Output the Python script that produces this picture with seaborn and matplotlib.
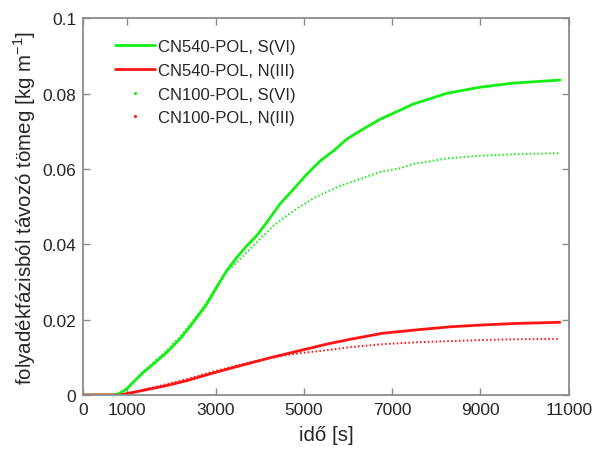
import matplotlib
matplotlib.use("Agg")
import matplotlib.pyplot as plt
from matplotlib.lines import Line2D
import seaborn as sns
import pandas as pd

# ---- data ----
t_cn540_s = [0, 650, 800, 983, 1133, 1360, 1586, 1890, 2191, 2493, 2796, 3023, 3249, 3476,
             3703, 3929, 4156, 4457, 4761, 5063, 5364, 5667, 5969, 6270, 6723, 7177, 7471,
             8242, 8990, 9738, 10803]
y_cn540_s = [0, 0, 0.0003, 0.0016, 0.0034, 0.006, 0.0082, 0.0113, 0.0149, 0.0193, 0.0241,
             0.0286, 0.033, 0.0365, 0.0396, 0.0423, 0.0458, 0.0507, 0.0546, 0.0586, 0.0621,
             0.0648, 0.0679, 0.0701, 0.0732, 0.0756, 0.0772, 0.0801, 0.0817, 0.0828, 0.0836]

t_cn540_n = [0, 830, 1133, 1511, 1889, 2342, 2871, 3400, 3855, 4308, 4911, 5516, 6050,
             6790, 7560, 8310, 9060, 9830, 10800]
y_cn540_n = [0, 0, 0.0007, 0.0016, 0.0025, 0.0038, 0.0056, 0.0073, 0.0087, 0.0101, 0.0118,
             0.0135, 0.0148, 0.0164, 0.0173, 0.0181, 0.0186, 0.0190, 0.0193]

t_cn100_s = [0, 650, 800, 983, 1133, 1360, 1586, 1890, 2191, 2493, 2796, 3023, 3249, 3401,
             3703, 4004, 4306, 4608, 4911, 5214, 5516, 5818, 6270, 6723, 7177, 7471, 8242,
             8990, 9738, 10803]
y_cn100_s = [0, 0, 0.0003, 0.0017, 0.0036, 0.0063, 0.0086, 0.0118, 0.0155, 0.0199, 0.0246,
             0.0289, 0.0328, 0.0343, 0.0378, 0.0414, 0.0449, 0.0476, 0.0500, 0.0522, 0.0539,
             0.0555, 0.0573, 0.0592, 0.0602, 0.0613, 0.0628, 0.0635, 0.0639, 0.0642]

t_cn100_n = [0, 830, 1133, 1511, 1889, 2342, 2871, 3400, 3855, 4457, 4911, 5516, 6050,
             6790, 7560, 8310, 9060, 9830, 10800]
y_cn100_n = [0, 0, 0.0008, 0.0018, 0.0029, 0.0042, 0.0060, 0.0076, 0.0089, 0.0103, 0.0111,
             0.0119, 0.0127, 0.0135, 0.0140, 0.0143, 0.0146, 0.0148, 0.0149]

series_names = ["CN540-POL, S(VI)", "CN540-POL, N(III)", "CN100-POL, S(VI)", "CN100-POL, N(III)"]
x_ticks = [0, 1000, 3000, 5000, 7000, 9000, 11000]
y_ticks = [0, 0.02, 0.04, 0.06, 0.08, 0.1]
y_tick_labels = ["0", "0.02", "0.04", "0.06", "0.08", "0.1"]
x_label = "idő [s]"
y_label = "folyadékfázisból távozó tömeg [kg m$^{\\mathregular{-1}}$]"

# ---- style ----
sns.set_style("white")
plt.rcParams["font.family"] = ["Liberation Sans", "DejaVu Sans"]

GREEN = "#14f014"
RED = "#ff1414"
AXC = "#8c8c8c"
TXT = "#262626"

fig = plt.figure(figsize=(5.95, 4.52), dpi=100)
ax = fig.add_axes([0.14, 0.1239, 0.8158, 0.8334])

data = [
    (t_cn540_s, y_cn540_s, GREEN, "-"),
    (t_cn540_n, y_cn540_n, RED, "-"),
    (t_cn100_s, y_cn100_s, GREEN, ":"),
    (t_cn100_n, y_cn100_n, RED, ":"),
]
for name, (t, y, col, ls) in zip(series_names, data):
    df = pd.DataFrame({"t": t, "y": y})
    if ls == "-":
        sns.lineplot(data=df, x="t", y="y", ax=ax, color=col, lw=2.0,
                     sort=False, estimator=None, legend=False)
    else:
        sns.lineplot(data=df, x="t", y="y", ax=ax, color=col, lw=1.4,
                     linestyle=(0, (0.8, 1.2)), sort=False, estimator=None, legend=False)

ax.set_xlim(0, 11000)
ax.set_ylim(0, 0.1)
ax.set_xticks(x_ticks)
ax.set_xticklabels([str(v) for v in x_ticks])
ax.set_yticks(y_ticks)
ax.set_yticklabels(y_tick_labels)
ax.set_xlabel(x_label, fontsize=14.8, color=TXT, labelpad=6)
ax.set_ylabel(y_label, fontsize=14.8, color=TXT, labelpad=3)

for sp in ax.spines.values():
    sp.set_visible(True)
    sp.set_color(AXC)
    sp.set_linewidth(1.3)
ax.tick_params(axis="both", which="both", direction="in", length=5, width=1,
               color=AXC, labelsize=12.5, labelcolor=TXT,
               top=True, right=True, bottom=True, left=True, pad=5)

handles = [
    Line2D([0], [0], color=GREEN, lw=2.0),
    Line2D([0], [0], color=RED, lw=2.0),
    Line2D([0], [0], color=GREEN, ls="none", marker=".", markersize=2.5),
    Line2D([0], [0], color=RED, ls="none", marker=".", markersize=2.5),
]
ax.legend(handles, series_names, loc="upper left", frameon=False, fontsize=12,
          handlelength=2.4, handletextpad=0.2, labelspacing=0.52,
          bbox_to_anchor=(0.0515, 0.962), borderaxespad=0.0)

fig.savefig("out.png", dpi=100)
